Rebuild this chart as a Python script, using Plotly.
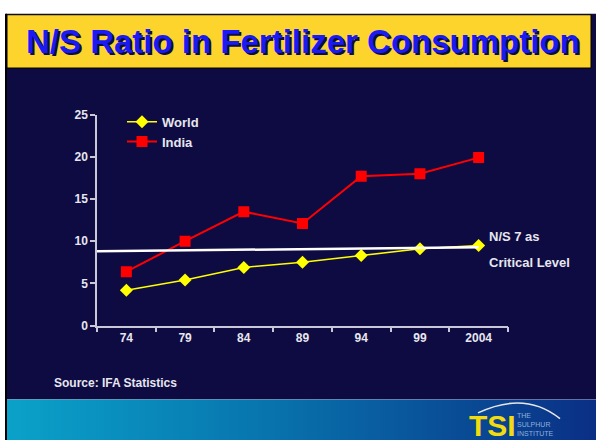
import base64
import plotly.graph_objects as go

W, H = 596, 447

years = ["74", "79", "84", "89", "94", "99", "2004"]
world = [4.2, 5.4, 6.9, 7.5, 8.3, 9.1, 9.5]
india = [6.4, 10.0, 13.5, 12.1, 17.7, 18.0, 19.9]

# hand-drawn "critical level" line (category index, value)
crit_x = [-0.5, 6]
crit_y = [8.8, 9.3]

NAVY = "#0e0a42"
YELLOW = "#fcd42c"
LABEL = "#e6e6ee"
FONT = "Liberation Sans, Arial, sans-serif"


def px(x):
    return x / W


def py(y):
    return 1 - y / H


fig = go.Figure()

fig.add_trace(go.Scatter(
    x=years, y=world, name="World", mode="lines+markers",
    line=dict(color="#ffff00", width=1.5),
    marker=dict(symbol="diamond", size=10, color="#ffff00"),
))
fig.add_trace(go.Scatter(
    x=years, y=india, name="India", mode="lines+markers",
    line=dict(color="#ff0000", width=2),
    marker=dict(symbol="square", size=11, color="#ff0000"),
))

# footer gradient as an svg image
svg = (
    '<svg xmlns="http://www.w3.org/2000/svg" width="596" height="42" preserveAspectRatio="none">'
    '<defs><linearGradient id="g" x1="0" x2="1" y1="0" y2="0">'
    '<stop offset="0" stop-color="#0aa2c9"/>'
    '<stop offset="0.45" stop-color="#0873ad"/>'
    '<stop offset="1" stop-color="#0a2f85"/>'
    '</linearGradient></defs>'
    '<rect width="596" height="42" fill="url(#g)"/></svg>'
)
src = "data:image/svg+xml;base64," + base64.b64encode(svg.encode()).decode()

shapes = [
    # slide body
    dict(type="rect", xref="paper", yref="paper", x0=px(6), x1=1, y0=py(405), y1=py(7),
         fillcolor=NAVY, line_width=0, layer="below"),
    # left black edge
    dict(type="rect", xref="paper", yref="paper", x0=px(5), x1=px(7), y0=0, y1=py(7),
         fillcolor="#000000", line_width=0, layer="below"),
    # yellow title banner
    dict(type="rect", xref="paper", yref="paper", x0=px(7), x1=px(591), y0=py(63), y1=py(8),
         fillcolor=YELLOW, line=dict(color="#000000", width=1), layer="below"),
    # critical level line
    dict(type="line", xref="x", yref="y", x0=crit_x[0], x1=crit_x[1], y0=crit_y[0], y1=crit_y[1],
         line=dict(color="#ffffff", width=2.5)),
    # logo arc
    dict(type="path", xref="paper", yref="paper",
         path=f"M {px(478)} {py(419)} Q {px(525)} {py(396)} {px(560)} {py(425)}",
         line=dict(color="#e8e8e8", width=1.5)),
]


def note(text, x, y, size, color=LABEL, xanchor="left", **kw):
    return dict(text=text, x=px(x), y=py(y), xref="paper", yref="paper", showarrow=False,
                xanchor=xanchor, yanchor="middle", font=dict(family=FONT, size=size, color=color), **kw)


title = "<b>N/S Ratio in Fertilizer Consumption</b>"
annotations = [
    note(title, 305, 38, 33, color="#0c0c40", xanchor="center"),
    note(title, 303, 36, 33, color="#1a1af5", xanchor="center"),
    note("<b>N/S 7 as</b>", 487, 237, 13),
    note("<b>Critical Level</b>", 487, 264, 13),
    note("<b>Source: IFA Statistics</b>", 52, 388, 12),
    note("<b>TSI</b>", 467, 432, 30, color="#f2dc10"),
    note("THE<br>SULPHUR<br>INSTITUTE", 515, 431, 7, color="#8fb0d8", align="left"),
]

fig.update_layout(
    width=W, height=H,
    margin=dict(l=0, r=0, t=0, b=0),
    paper_bgcolor="#ffffff",
    plot_bgcolor="rgba(0,0,0,0)",
    showlegend=True,
    legend=dict(x=px(122), y=py(103), xanchor="left", yanchor="top",
                bgcolor="rgba(0,0,0,0)", font=dict(family=FONT, size=13, color=LABEL, weight="bold"),
                tracegroupgap=0),
    xaxis=dict(domain=[px(97), px(508)], type="category", tickson="boundaries",
               showgrid=False, zeroline=False, showline=True, linecolor="#c8c8d8", linewidth=1.5,
               ticks="outside", ticklen=5, tickcolor="#c8c8d8", tickwidth=1.5,
               tickfont=dict(family=FONT, size=12, color=LABEL, weight="bold"),
               range=[-0.5, 6.5]),
    yaxis=dict(domain=[py(329), py(111)], range=[0, 25], dtick=5,
               showgrid=False, zeroline=False, showline=True, linecolor="#c8c8d8", linewidth=1.5,
               ticks="outside", ticklen=5, tickcolor="#c8c8d8", tickwidth=1.5,
               tickfont=dict(family=FONT, size=12, color=LABEL, weight="bold")),
    shapes=shapes,
    annotations=annotations,
    images=[dict(source=src, xref="paper", yref="paper", x=px(7), y=py(405),
                 sizex=px(589), sizey=42 / H, sizing="stretch", layer="below",
                 xanchor="left", yanchor="top")],
)

# page's default body margin would shift the figure by 8px
fig.write_html("out.html", config={"displayModeBar": False},
               post_script="document.body.style.margin='0';")
